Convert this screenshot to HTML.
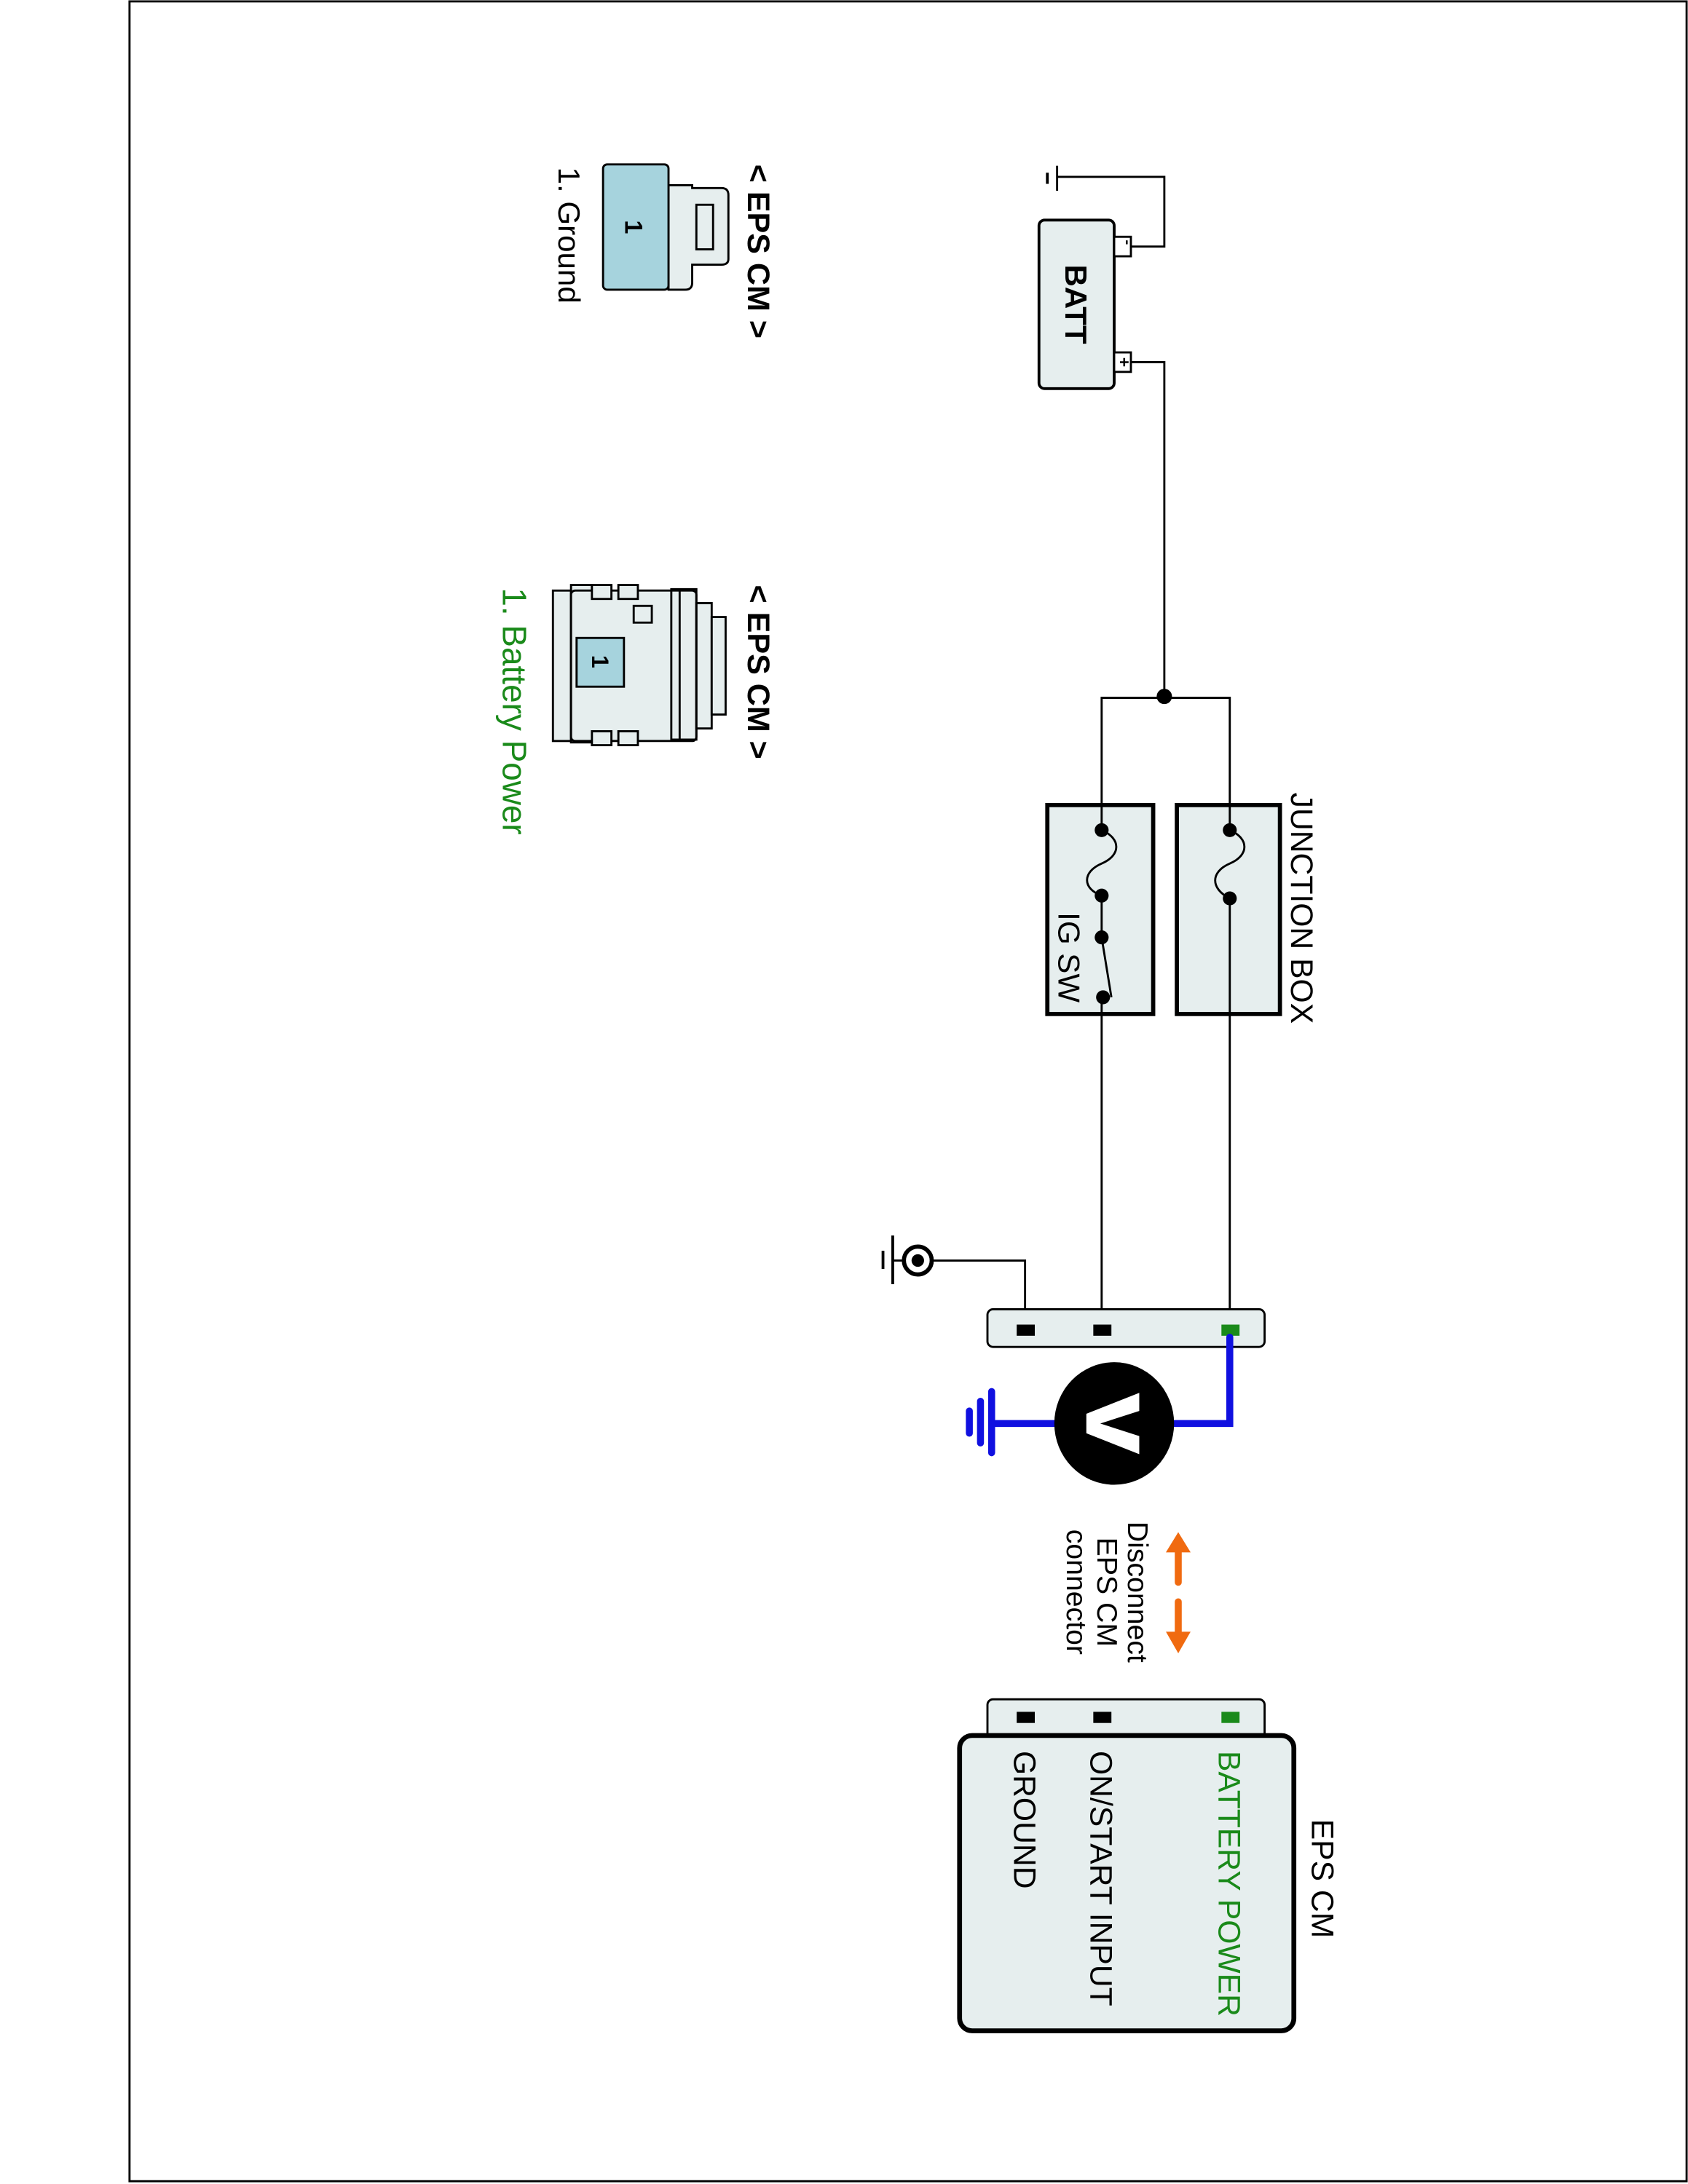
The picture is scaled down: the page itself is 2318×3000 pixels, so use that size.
<!DOCTYPE html>
<html><head><style>html,body{margin:0;padding:0;background:#fff}svg{display:block}</style></head><body>
<svg width="2318" height="3000" viewBox="0 0 1212 1568" preserveAspectRatio="none" xmlns="http://www.w3.org/2000/svg" font-family="Liberation Sans, sans-serif">
<rect x="93" y="1" width="1118" height="1565" fill="none" stroke="#000" stroke-width="1.5"/>
<g stroke="#000" stroke-width="1.5" fill="none">
<line x1="759" y1="119" x2="759" y2="137"/><line x1="752" y1="124" x2="752" y2="132" stroke-width="2"/>
<polyline points="759,127 836,127 836,177 812,177"/>
<polyline points="812,260 836,260 836,500"/>
<polyline points="791,596 791,501 883,501 883,955"/>
<line x1="791" y1="716" x2="791" y2="955"/>
<polyline points="736,955 736,905 670,905"/>
<line x1="641" y1="887" x2="641" y2="922" stroke-width="2"/><line x1="634" y1="898" x2="634" y2="911" stroke-width="2"/>
</g>
<circle cx="659" cy="905" r="10" fill="#fff" stroke="#000" stroke-width="3"/><circle cx="659" cy="905" r="4.5" fill="#000"/>
<line x1="648" y1="905" x2="641" y2="905" stroke="#000" stroke-width="1.5"/>
<rect x="746" y="158" width="54" height="121" rx="4" fill="#e6eeee" stroke="#000" stroke-width="2"/>
<rect x="800" y="170" width="12" height="14" fill="#fff" stroke="#000" stroke-width="1.5"/>
<rect x="800" y="253" width="12" height="14" fill="#fff" stroke="#000" stroke-width="1.5"/>
<text x="806" y="174" transform="rotate(90 806 174)" font-size="11" font-weight="bold" text-anchor="middle">-</text>
<text x="803" y="260" transform="rotate(90 803 260)" font-size="12" font-weight="bold" text-anchor="middle">+</text>
<text x="765" y="190" transform="rotate(90 765 190)" font-size="22" font-weight="bold">BATT</text>
<circle cx="836" cy="500" r="5.5" fill="#000"/>
<rect x="752" y="578" width="76" height="150" fill="#e6eeee" stroke="#000" stroke-width="3"/>
<rect x="845" y="578" width="74" height="150" fill="#e6eeee" stroke="#000" stroke-width="3"/>
<g stroke="#000" stroke-width="1.5" fill="none">
<line x1="791" y1="578" x2="791" y2="596"/><line x1="883" y1="578" x2="883" y2="596"/>
<path d="M791,596 C805,602 805,614 791,620 C777,626 777,638 791,643"/>
<path d="M883,596 C897,602 897,614 883,620 C869,626 869,638 883,645"/>
<line x1="791" y1="643" x2="791" y2="673"/><line x1="791" y1="673" x2="798" y2="716"/>
<line x1="791" y1="716" x2="791" y2="728"/><line x1="883" y1="645" x2="883" y2="728"/>
</g>
<g fill="#000"><circle cx="791" cy="596" r="5"/><circle cx="791" cy="643" r="5"/><circle cx="791" cy="673" r="5"/><circle cx="792" cy="716" r="5"/><circle cx="883" cy="596" r="5"/><circle cx="883" cy="645" r="5"/></g>
<text x="760" y="655" transform="rotate(90 760 655)" font-size="22">IG SW</text>
<text x="927" y="569" transform="rotate(90 927 569)" font-size="22.3">JUNCTION BOX</text>
<rect x="709" y="940" width="199" height="27" rx="4" fill="#e6eeee" stroke="#000" stroke-width="1.5"/>
<rect x="730" y="951" width="13" height="8" fill="#000"/><rect x="785" y="951" width="13" height="8" fill="#000"/><rect x="877" y="951" width="13" height="8" fill="#1a8a1a"/>
<g stroke="#1010e0" stroke-width="5" fill="none" stroke-linecap="round">
<polyline points="883,960 883,1022 843,1022"/><line x1="757" y1="1022" x2="712" y2="1022"/>
<line x1="712" y1="999" x2="712" y2="1043"/><line x1="704" y1="1006" x2="704" y2="1036"/><line x1="696" y1="1013" x2="696" y2="1029"/>
</g>
<ellipse cx="800" cy="1022" rx="43" ry="44" fill="#000"/>
<polygon points="818,1000 818,1013 790,1022 818,1031 818,1044 780,1029 780,1015" fill="#fff"/>
<g fill="#f06a10" stroke="#f06a10" stroke-width="5" stroke-linecap="round">
<line x1="846" y1="1112" x2="846" y2="1136"/><line x1="846" y1="1150" x2="846" y2="1174"/>
<polygon points="838,1114 854,1114 846,1101" stroke-width="1"/><polygon points="838,1172 854,1172 846,1186" stroke-width="1"/>
</g>
<g font-size="20.5">
<text x="810" y="1143" transform="rotate(90 810 1143)" text-anchor="middle">Disconnect</text>
<text x="788" y="1143" transform="rotate(90 788 1143)" text-anchor="middle">EPS CM</text>
<text x="766" y="1143" transform="rotate(90 766 1143)" text-anchor="middle">connector</text>
</g>
<rect x="709" y="1220" width="199" height="30" rx="4" fill="#e6eeee" stroke="#000" stroke-width="1.5"/>
<rect x="730" y="1229" width="13" height="8" fill="#000"/><rect x="785" y="1229" width="13" height="8" fill="#000"/><rect x="877" y="1229" width="13" height="8" fill="#1a8a1a"/>
<rect x="689" y="1246" width="240" height="212" rx="9" fill="#e6eeee" stroke="#000" stroke-width="3.5"/>
<g font-size="22.3">
<text x="875" y="1257" transform="rotate(90 875 1257)" fill="#1a8a1a">BATTERY POWER</text>
<text x="783" y="1257" transform="rotate(90 783 1257)">ON/START INPUT</text>
<text x="728" y="1257" transform="rotate(90 728 1257)">GROUND</text>
<text x="942" y="1306" transform="rotate(90 942 1306)">EPS CM</text>
</g>
<!-- connector 1 -->
<path d="M480,133 L497,133 L497,135 L518,135 Q523,135 523,140 L523,186 Q523,190 518,190 L497,190 L497,203 Q497,208 492,208 L480,208 Z" fill="#e6eeee" stroke="#000" stroke-width="1.5"/>
<rect x="500" y="147" width="12" height="32" fill="#e6eeee" stroke="#000" stroke-width="1.5"/>
<rect x="433" y="118" width="47" height="90" rx="3" fill="#a6d3dd" stroke="#000" stroke-width="1.5"/>
<text x="449" y="163" transform="rotate(90 449 163)" font-size="18" font-weight="bold" text-anchor="middle">1</text>
<text x="537" y="118" transform="rotate(90 537 118)" font-size="22.5" font-weight="bold">&lt; EPS CM &gt;</text>
<text x="401" y="120" transform="rotate(90 401 120)" font-size="22">1. Ground</text>
<!-- connector 2 -->
<g stroke="#000" stroke-width="1.5" fill="#e6eeee">
<rect x="397" y="424" width="13" height="108"/>
<rect x="410" y="420" width="15" height="113"/>
<rect x="410" y="424" width="90" height="108" rx="3"/>
<rect x="500" y="433" width="11" height="90"/>
<rect x="511" y="443" width="10" height="70"/>
<rect x="482" y="423" width="18" height="108" fill="none"/>
<line x1="488" y1="423" x2="488" y2="531"/>
<rect x="455" y="435" width="13" height="12"/>
<rect x="414" y="458" width="34" height="35" fill="#a6d3dd"/>
<rect x="444" y="420" width="14" height="10"/><rect x="444" y="525" width="14" height="10"/>
<rect x="425" y="420" width="14" height="10"/><rect x="425" y="525" width="14" height="10"/>
</g>
<text x="425" y="475" transform="rotate(90 425 475)" font-size="17" font-weight="bold" text-anchor="middle">1</text>
<text x="537" y="420" transform="rotate(90 537 420)" font-size="22.5" font-weight="bold">&lt; EPS CM &gt;</text>
<text x="361" y="422" transform="rotate(90 361 422)" font-size="24" fill="#1a8a1a">1. Battery Power</text>
</svg>
</body></html>
